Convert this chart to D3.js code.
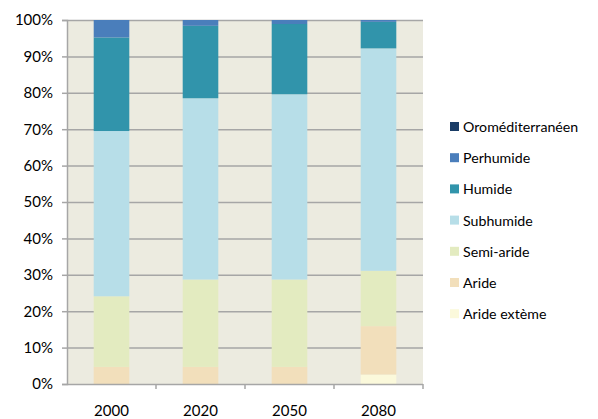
<!DOCTYPE html>
<html>
<head>
<meta charset="utf-8">
<script src="https://cdn.jsdelivr.net/npm/d3@7"></script>
<style>
  body { margin: 0; background: #fff; }
  text { font-family: Lato, "Open Sans", sans-serif; fill: #000; }
</style>
</head>
<body>
<svg id="chart" width="598" height="419"></svg>
<script>
const years = ["2000", "2020", "2050", "2080"];
const classes = ["Aride extème", "Aride", "Semi-aride", "Subhumide", "Humide", "Perhumide", "Oroméditerranéen"];
const colors = ["#fbf9db", "#f2dfbb", "#e3ebc0", "#b7dee8", "#3194ab", "#4a7ebb", "#1a3c66"];
// percentages per year, bottom to top (same order as classes)
const aridExtreme = [0, 0, 0, 2.6];
const aride = [4.7, 4.7, 4.7, 13.3];
const semiAride = [19.4, 24.0, 24.0, 15.2];
const subhumide = [45.4, 49.8, 50.9, 61.1];
const humide = [25.7, 19.9, 19.3, 7.3];
const perhumide = [4.8, 1.6, 1.1, 0.5];
const oromed = [0, 0, 0, 0];
const yTicks = [0, 10, 20, 30, 40, 50, 60, 70, 80, 90, 100];

const series = [aridExtreme, aride, semiAride, subhumide, humide, perhumide, oromed];
const rows = years.map((yr, i) => {
  const r = { year: yr };
  classes.forEach((c, k) => r[c] = series[k][i]);
  return r;
});

const svg = d3.select("#chart");
const plotLeft = 67, plotRight = 423, plotTop = 20, plotBottom = 384;

const x = d3.scaleBand().domain(years).range([plotLeft, plotRight]).paddingInner(0.6).paddingOuter(0.3);
const xTickScale = d3.scaleBand().domain(years).range([plotLeft, plotRight]);
const y = d3.scaleLinear().domain([0, 100]).range([plotBottom, plotTop]);

svg.append("rect")
  .attr("x", plotLeft).attr("y", plotTop)
  .attr("width", plotRight - plotLeft).attr("height", plotBottom - plotTop)
  .attr("fill", "#ecebe0");

// gridlines
svg.append("g").selectAll("line")
  .data(yTicks.filter(d => d > 0))
  .enter().append("line")
  .attr("x1", plotLeft).attr("x2", plotRight)
  .attr("y1", d => y(d) + 0.5).attr("y2", d => y(d) + 0.5)
  .attr("stroke", "#a6a6a6").attr("stroke-width", 1.5);

const stack = d3.stack().keys(classes)(rows);

svg.append("g").selectAll("g")
  .data(stack)
  .enter().append("g")
  .attr("fill", (d, i) => colors[i])
  .selectAll("rect")
  .data(d => d)
  .enter().append("rect")
  .attr("x", d => x(d.data.year))
  .attr("width", x.bandwidth())
  .attr("y", d => y(d[1]))
  .attr("height", d => y(d[0]) - y(d[1]));

// y axis
const yAxis = svg.append("g")
  .attr("transform", `translate(${plotLeft},0)`)
  .call(d3.axisLeft(y).tickValues(yTicks).tickSize(5).tickFormat(d => d + "%"));
yAxis.select(".domain").attr("stroke", "#a6a6a6").attr("stroke-width", 1.5);
yAxis.selectAll(".tick line").attr("stroke", "#a6a6a6").attr("stroke-width", 1.5);
yAxis.selectAll("text").attr("font-size", 15).attr("x", -14)
  .style("font-family", "Lato, 'Open Sans', sans-serif").attr("fill", "#000");

// x axis
const xAxis = svg.append("g")
  .attr("transform", `translate(0,${plotBottom})`);
xAxis.append("line")
  .attr("x1", plotLeft).attr("x2", plotRight).attr("y1", 0.5).attr("y2", 0.5)
  .attr("stroke", "#a6a6a6").attr("stroke-width", 1.5);
xAxis.selectAll(".sep")
  .data(years)
  .enter().append("line")
  .attr("x1", d => xTickScale(d) + xTickScale.bandwidth())
  .attr("x2", d => xTickScale(d) + xTickScale.bandwidth())
  .attr("y1", 0).attr("y2", 5)
  .attr("stroke", "#a6a6a6").attr("stroke-width", 1.5);
xAxis.selectAll(".lbl")
  .data(years)
  .enter().append("text")
  .attr("x", d => xTickScale(d) + xTickScale.bandwidth() / 2)
  .attr("y", 32)
  .attr("text-anchor", "middle")
  .attr("font-size", 15)
  .text(d => d);

// legend
const legendItems = classes.map((c, i) => ({ name: c, color: colors[i] })).reverse();
const legend = svg.append("g").attr("transform", "translate(450,127)");
const item = legend.selectAll("g").data(legendItems).enter().append("g")
  .attr("transform", (d, i) => `translate(0,${i * 31.2})`);
item.append("rect").attr("x", 0).attr("y", -5).attr("width", 9).attr("height", 9)
  .attr("fill", d => d.color);
item.append("text").attr("x", 13).attr("y", 5).attr("font-size", 14.2).text(d => d.name);
</script>
</body>
</html>
